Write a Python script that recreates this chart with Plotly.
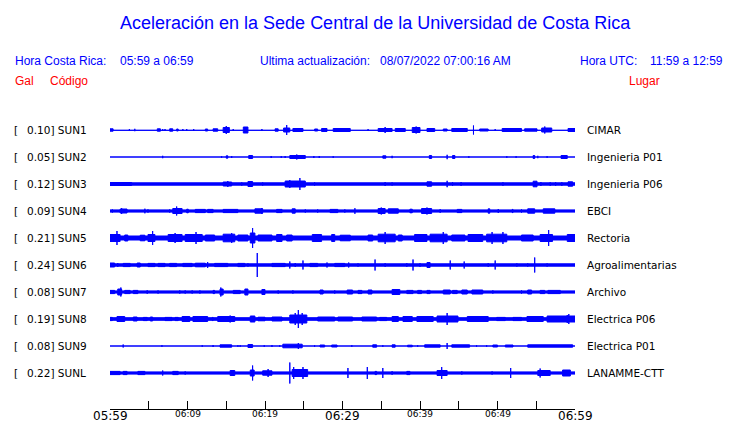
import plotly.graph_objects as go

# ---------------- data ----------------
STATIONS = ["SUN1", "SUN2", "SUN3", "SUN4", "SUN5", "SUN6", "SUN7", "SUN8", "SUN9", "SUNL"]
GAL = ["0.10", "0.05", "0.12", "0.09", "0.21", "0.24", "0.08", "0.19", "0.08", "0.22"]
PLACES = ["CIMAR", "Ingenieria P01", "Ingenieria P06", "EBCI", "Rectoria",
          "Agroalimentarias", "Archivo", "Electrica P06", "Electrica P01", "LANAMME-CTT"]
# background noise level of each trace (relative amplitude)
BASE_AMP = [0.3, 0.0, 1.2, 1.1, 2.0, 1.2, 1.1, 1.3, 0.0, 1.1]

# bursts: [start minute, end minute, relative amplitude], minutes after 05:59
SUN1_BURSTS = [[0.0, 0.4, 1.2], [2.5, 2.5, 1.0], [3.2, 3.2, 1.2], [6.1, 6.5, 1.2], [6.8, 6.8, 1.0],
               [7.1, 7.1, 1.0], [7.7, 8.1, 1.2], [8.6, 8.8, 1.0], [9.4, 9.4, 1.0], [9.9, 9.9, 1.0],
               [10.8, 10.8, 1.0], [12.3, 12.6, 1.0], [13.3, 13.9, 1.2], [14.6, 15.4, 2.5], [15.0, 15.0, 4.0],
               [15.9, 15.9, 1.0], [17.2, 17.8, 3.0], [19.6, 19.6, 1.0], [21.3, 21.7, 1.2], [22.4, 23.2, 2.0],
               [22.8, 22.8, 5.0], [23.6, 24.9, 1.5], [26.4, 26.8, 1.0], [27.3, 28.0, 1.5], [28.8, 31.0, 1.5],
               [33.3, 33.3, 1.0], [34.6, 36.4, 1.5], [35.5, 35.5, 3.0], [36.8, 38.1, 1.5], [39.0, 40.0, 2.5],
               [39.5, 39.5, 3.5], [40.9, 41.9, 1.5], [43.0, 43.5, 1.0], [44.1, 46.1, 1.5], [46.9, 46.9, 4.5],
               [47.7, 48.8, 1.0], [49.7, 49.7, 1.0], [50.6, 53.1, 1.5], [53.5, 55.1, 1.2], [55.7, 57.0, 2.0],
               [56.1, 56.1, 3.5], [59.1, 60.0, 1.5]]
SUN2_BURSTS = [[6.8, 6.8, 1.2], [14.4, 14.4, 0.8], [15.0, 15.2, 1.2], [15.7, 15.7, 1.0], [17.9, 18.4, 1.5],
               [20.8, 20.8, 1.0], [22.1, 22.1, 1.0], [22.6, 22.6, 1.0], [23.2, 25.2, 1.5], [24.1, 24.1, 2.5],
               [26.3, 26.3, 1.0], [27.0, 27.0, 1.0], [28.8, 28.8, 0.8], [35.2, 35.6, 1.2], [36.4, 36.4, 1.2],
               [41.2, 41.5, 1.5], [43.5, 43.5, 2.2], [44.2, 44.5, 1.5], [46.3, 46.3, 0.8], [51.2, 51.2, 0.8],
               [52.4, 52.4, 0.8], [54.6, 54.8, 1.5], [55.2, 55.2, 1.2], [56.4, 56.4, 0.8], [58.2, 59.0, 1.5]]
SUN3_BURSTS = [[0.0, 2.8, 1.5], [14.6, 15.7, 2.0], [15.2, 15.2, 3.0], [17.0, 17.0, 1.6], [17.8, 18.4, 2.5],
               [19.7, 19.7, 1.6], [22.6, 25.2, 3.0], [24.5, 24.5, 6.0], [23.2, 23.2, 4.0], [26.4, 26.4, 1.6],
               [35.5, 35.5, 2.0], [36.4, 36.4, 1.6], [40.9, 41.5, 2.2], [43.5, 43.5, 3.2], [44.2, 44.2, 2.0],
               [45.3, 45.3, 1.8], [50.7, 50.7, 1.8], [54.6, 55.1, 2.8], [55.6, 55.6, 2.0], [56.8, 56.8, 1.8],
               [57.5, 57.5, 1.8], [58.3, 58.3, 1.8], [59.1, 59.7, 2.2]]
SUN4_BURSTS = [[0.3, 0.3, 1.6], [1.3, 2.2, 2.0], [1.5, 1.5, 3.0], [4.5, 4.5, 2.3], [4.9, 4.9, 1.6],
               [7.7, 7.7, 1.6], [8.1, 9.3, 2.5], [8.6, 8.6, 4.5], [9.9, 10.1, 1.8], [11.0, 12.3, 1.6],
               [12.6, 13.3, 1.6], [14.6, 16.5, 1.6], [18.7, 19.7, 2.2], [19.6, 19.6, 3.0], [21.5, 22.2, 1.6],
               [23.5, 23.9, 2.2], [25.2, 25.2, 1.6], [26.8, 26.8, 1.6], [28.4, 29.4, 1.6], [30.3, 30.3, 1.6],
               [31.6, 31.6, 2.8], [34.6, 35.5, 2.5], [35.0, 35.0, 3.5], [35.9, 37.2, 2.2], [38.7, 39.0, 1.8],
               [40.2, 41.5, 2.5], [40.9, 40.9, 3.5], [42.6, 42.6, 1.8], [44.8, 45.4, 1.6], [48.8, 49.0, 2.2],
               [50.1, 50.1, 2.0], [51.9, 52.0, 1.6], [53.1, 53.1, 1.6], [53.9, 54.8, 2.2], [55.9, 57.4, 2.2]]
SUN5_BURSTS = [[0.0, 1.3, 3.5], [0.9, 0.9, 7.0], [1.9, 2.3, 3.0], [3.9, 4.5, 2.8], [4.9, 5.8, 3.5],
               [5.5, 5.5, 7.0], [7.5, 9.3, 3.5], [8.4, 8.4, 5.0], [9.7, 11.9, 3.5], [11.1, 11.1, 6.0],
               [12.3, 13.5, 3.0], [14.6, 16.1, 3.8], [15.7, 15.7, 5.0], [16.5, 17.8, 3.0], [18.1, 18.7, 5.0],
               [18.4, 18.4, 10.0], [19.1, 20.9, 3.0], [21.5, 22.2, 3.5], [22.8, 23.5, 3.0], [26.1, 27.3, 3.5],
               [28.6, 29.0, 3.5], [29.7, 31.0, 2.8], [33.3, 33.9, 3.0], [34.6, 36.8, 3.8], [35.5, 35.5, 6.0],
               [37.2, 37.7, 3.0], [39.3, 40.9, 3.5], [41.3, 43.5, 3.8], [43.0, 43.0, 6.0], [44.1, 45.8, 3.0],
               [46.2, 48.1, 3.5], [48.6, 51.2, 3.8], [49.3, 49.3, 6.0], [50.7, 50.7, 6.0], [53.1, 54.6, 3.0],
               [55.5, 57.1, 3.5], [56.6, 56.6, 8.0], [59.0, 60.0, 3.5]]
SUN6_BURSTS = [[0.0, 0.6, 2.0], [1.0, 1.0, 2.0], [1.7, 2.6, 1.6], [3.5, 3.9, 2.0], [4.9, 5.8, 1.6],
               [6.2, 7.1, 1.6], [7.7, 8.6, 1.6], [9.4, 10.6, 1.6], [11.0, 12.3, 1.8], [12.6, 12.6, 3.0],
               [13.5, 15.2, 1.6], [16.5, 17.4, 1.6], [17.8, 17.8, 1.6], [19.0, 19.0, 12.0], [20.9, 22.6, 1.6],
               [23.2, 23.2, 3.5], [23.9, 23.9, 2.0], [24.9, 24.9, 4.5], [25.8, 26.8, 1.6], [28.0, 28.0, 2.5],
               [29.0, 30.3, 1.6], [30.8, 30.8, 2.5], [32.0, 32.0, 1.6], [34.2, 34.2, 5.5], [35.5, 35.5, 1.8],
               [38.3, 38.3, 1.8], [39.1, 39.1, 5.5], [40.0, 40.0, 1.8], [40.9, 41.3, 2.5], [43.9, 43.9, 4.5],
               [45.7, 45.7, 3.5], [48.8, 48.8, 1.8], [49.7, 49.7, 4.5], [52.5, 52.5, 1.6], [53.9, 53.9, 1.6],
               [54.8, 54.8, 7.5], [56.4, 56.4, 1.6]]
SUN7_BURSTS = [[0.0, 0.6, 1.6], [1.0, 1.5, 3.0], [1.4, 1.4, 4.5], [1.9, 2.6, 1.6], [3.0, 3.6, 1.6],
               [4.8, 4.8, 1.8], [6.2, 6.2, 1.6], [9.0, 9.0, 1.6], [9.7, 9.7, 1.6], [10.6, 10.6, 1.6],
               [11.6, 11.6, 1.6], [13.3, 13.5, 1.6], [14.2, 14.6, 3.0], [14.3, 14.3, 4.5], [15.9, 16.8, 1.6],
               [17.4, 17.8, 3.0], [19.6, 20.0, 2.5], [21.7, 21.7, 1.6], [23.6, 23.6, 1.6], [27.1, 27.5, 2.0],
               [29.0, 29.0, 1.6], [30.6, 31.3, 2.0], [32.0, 32.5, 1.6], [33.3, 33.8, 2.0], [36.4, 37.4, 2.5],
               [38.3, 39.1, 1.6], [39.7, 40.2, 1.6], [40.9, 41.3, 1.6], [43.0, 43.9, 2.0], [44.2, 44.8, 1.6],
               [45.4, 46.1, 2.0], [46.7, 48.1, 2.0], [49.4, 49.4, 1.6], [53.1, 53.1, 1.6], [53.9, 54.4, 2.0],
               [55.5, 56.1, 1.6], [56.5, 58.1, 1.6]]
SUN8_BURSTS = [[0.0, 0.3, 1.6], [0.9, 1.9, 2.5], [3.0, 3.5, 2.0], [4.3, 4.8, 1.6], [5.2, 5.5, 2.0],
               [7.1, 8.0, 1.6], [8.4, 8.8, 1.6], [9.3, 10.3, 2.5], [10.7, 12.6, 2.5], [13.2, 13.3, 1.6],
               [13.9, 16.1, 2.5], [15.5, 15.5, 3.5], [18.1, 18.7, 3.0], [19.1, 20.0, 1.8], [20.9, 22.2, 2.0],
               [23.2, 25.4, 4.0], [24.3, 24.3, 9.0], [23.9, 23.9, 6.0], [24.8, 24.8, 6.0], [26.8, 29.0, 2.0],
               [29.4, 31.3, 2.0], [32.5, 34.4, 2.0], [34.8, 35.7, 1.6], [36.4, 37.2, 2.5], [37.8, 39.0, 2.5],
               [39.6, 41.7, 2.5], [42.2, 44.9, 3.0], [43.5, 43.5, 6.0], [46.1, 48.8, 2.5], [49.9, 51.0, 1.6],
               [52.0, 53.1, 1.6], [53.8, 55.9, 2.5], [56.4, 60.0, 3.0], [59.2, 59.2, 5.0], [59.0, 59.0, 4.0]]
SUN9_BURSTS = [[1.7, 1.7, 1.5], [6.7, 6.7, 0.8], [11.9, 11.9, 0.8], [13.3, 13.3, 1.0], [14.2, 15.7, 1.2],
               [16.5, 16.5, 0.8], [16.8, 16.8, 0.8], [17.8, 18.4, 1.5], [19.9, 19.9, 0.8], [20.9, 20.9, 1.0],
               [21.9, 21.9, 0.8], [22.3, 24.8, 1.8], [24.3, 24.3, 3.0], [26.4, 26.4, 0.8], [27.1, 27.7, 1.0],
               [28.6, 29.3, 1.0], [31.2, 31.2, 0.8], [33.9, 34.4, 1.2], [35.2, 35.2, 0.8], [36.4, 36.8, 1.2],
               [38.4, 39.0, 0.8], [39.7, 39.7, 0.8], [40.6, 42.6, 1.2], [43.5, 43.5, 3.0], [44.1, 46.4, 1.2],
               [47.3, 47.3, 0.8], [48.6, 48.6, 0.8], [49.4, 50.0, 1.0], [51.0, 52.0, 1.0], [53.9, 59.7, 1.2]]
SUNL_BURSTS = [[0.0, 1.3, 1.6], [1.7, 2.2, 1.6], [3.6, 4.5, 1.6], [6.8, 6.8, 2.5], [8.1, 8.8, 1.6],
               [9.7, 9.7, 1.6], [15.5, 16.1, 2.5], [18.1, 18.6, 3.0], [18.4, 18.4, 7.5], [19.7, 20.9, 2.2],
               [20.4, 20.4, 4.0], [23.2, 23.2, 10.5], [23.5, 25.5, 3.5], [23.7, 23.7, 6.0], [24.9, 24.9, 6.0],
               [30.7, 30.7, 5.0], [33.2, 33.2, 6.0], [34.2, 34.4, 1.6], [35.2, 35.2, 5.0], [36.4, 36.4, 1.8],
               [38.3, 38.7, 1.6], [42.2, 43.5, 2.5], [42.8, 42.8, 6.0], [45.4, 45.4, 1.6], [49.3, 49.3, 1.6],
               [51.7, 51.7, 5.0], [55.2, 56.8, 2.5], [55.5, 55.5, 4.5], [58.4, 59.4, 3.0]]
BURSTS = [SUN1_BURSTS, SUN2_BURSTS, SUN3_BURSTS, SUN4_BURSTS, SUN5_BURSTS,
          SUN6_BURSTS, SUN7_BURSTS, SUN8_BURSTS, SUN9_BURSTS, SUNL_BURSTS]

TICK_MINUTES = [0, 5, 10, 15, 20, 25, 30, 35, 40, 45, 50, 55, 60]
TICK_LABELS = {0: "05:59", 10: "06:09", 20: "06:19", 30: "06:29", 40: "06:39", 50: "06:49", 60: "06:59"}
MAJOR_LABELS = [0, 30, 60]

# ---------------- layout helpers ----------------
W, H = 740, 423
PX_L, PX_R = 110, 575          # plot area in pixels
PX_T, PX_B = 115, 409
ROW0_PX, ROW_STEP = 130, 27
T_SPAN = 60

def pxx(px):
    return (px - PX_L) / (PX_R - PX_L)

def pxy(py):
    return (PX_B - py) / (PX_B - PX_T)

BLUE = "#0000FF"
RED = "#FF0000"
fig = go.Figure()

for i, code in enumerate(STATIONS):
    c = (PX_B - PX_T) - (ROW0_PX - PX_T) - ROW_STEP * i
    xs, ys = [], []
    b = BASE_AMP[i]
    xs += [0, T_SPAN, T_SPAN, 0, 0, None]
    ys += [c - b, c - b, c + b, c + b, c - b, None]
    for t0, t1, a in BURSTS[i]:
        xs += [t0, t1, t1, t0, t0, None]
        ys += [c - a, c - a, c + a, c + a, c - a, None]
    fig.add_trace(go.Scatter(x=xs, y=ys, mode="lines", fill="toself", fillcolor=BLUE,
                             line=dict(color=BLUE, width=1), hoverinfo="skip", showlegend=False))

ann = []
def text(px, py, s, color="black", size=11, family="DejaVu Sans", anchor="left"):
    ann.append(dict(x=pxx(px), y=pxy(py), xref="paper", yref="paper", text=s, showarrow=False,
                    xanchor=anchor, yanchor="middle", font=dict(color=color, size=size, family=family),
                    borderpad=0, borderwidth=0))

SANS = "Liberation Sans"
text(375, 23, "Aceleración en la Sede Central de la Universidad de Costa Rica", BLUE, 18, SANS, "center")
text(15, 61, "Hora Costa Rica:", BLUE, 12, SANS)
text(120, 61, "05:59 a 06:59", BLUE, 12, SANS)
text(260, 61, "Ultima actualización:", BLUE, 12, SANS)
text(380, 61, "08/07/2022 07:00:16 AM", BLUE, 12, SANS)
text(580, 61, "Hora UTC:", BLUE, 12, SANS)
text(650, 61, "11:59 a 12:59", BLUE, 12, SANS)
text(15, 81, "Gal", RED, 12, SANS)
text(50, 81, "Código", RED, 12, SANS)
text(629, 81, "Lugar", RED, 12, SANS)

for i, code in enumerate(STATIONS):
    py = ROW0_PX + ROW_STEP * i
    text(14, py, "[", "black", 10.5)
    text(27, py, f"{GAL[i]}] {code}", "black", 10.5)
    text(587, py, PLACES[i], "black", 10.5)

for m, lab in TICK_LABELS.items():
    big = m in MAJOR_LABELS
    ann.append(dict(x=m, y=0, xref="x", yref="paper", text=lab, showarrow=False,
                    xanchor="center", yanchor="top", yshift=0,
                    font=dict(color="black", size=12 if big else 9, family="DejaVu Sans"),
                    borderpad=0, borderwidth=0))

fig.update_layout(
    width=W, height=H, margin=dict(l=PX_L, r=W - PX_R, t=PX_T, b=H - PX_B, pad=0),
    paper_bgcolor="white", plot_bgcolor="white", annotations=ann, showlegend=False,
    xaxis=dict(range=[0, T_SPAN], tickvals=TICK_MINUTES, ticks="inside", ticklen=8, tickwidth=1,
               tickcolor="black", showline=True, linecolor="black", linewidth=1, showgrid=False,
               zeroline=False, showticklabels=False, fixedrange=True),
    yaxis=dict(range=[0, PX_B - PX_T], visible=False, showgrid=False, zeroline=False, fixedrange=True),
)
fig.write_html("out.html", config={"displayModeBar": False},
               post_script="document.body.style.margin='0px';")
